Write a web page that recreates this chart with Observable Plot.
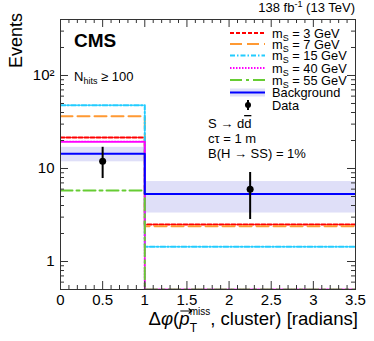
<!DOCTYPE html>
<html><head><meta charset="utf-8">
<script src="https://cdn.jsdelivr.net/npm/d3@7"></script>
<script src="https://cdn.jsdelivr.net/npm/@observablehq/plot@0.6"></script>
<style>body{margin:0;background:#fff} svg{font-family:"Liberation Sans",Arial,Helvetica,sans-serif}</style>
</head><body><div id="chart"></div>
<script>
// ---- data ----
const binEdges = [0, 1, 3.5];
const seriesLabels = ["3 GeV", "7 GeV", "15 GeV", "40 GeV", "55 GeV"];
const ms3 = [21.6, 2.5];
const ms7 = [36.5, 2.4];
const ms15 = [48, 1.44];
const ms40 = [19.4, 0];
const ms55 = [5.8, 0];
const background = [14.4, 5.33];
const bkgLow = [11.8, 3.32];
const bkgHigh = [16.9, 7.24];
const dataX = [0.5, 2.25];
const dataY = [12, 6];
const dataLow = [7.8, 2.83];
const dataHigh = [16.9, 9.06];
const xTickValues = [0, 0.5, 1, 1.5, 2, 2.5, 3, 3.5];
const xTickLabels = ["0", "0.5", "1", "1.5", "2", "2.5", "3", "3.5"];
const yTickValues = [1, 10, 100];
const yTickLabels = ["1", "10", "10\u00b2"];

// ---- styles ----
const FONT = '"Liberation Sans", Arial, Helvetica, sans-serif';
const YMIN = 0.5, YMAX = 400;
const styles = [
  {vals: ms3, color: "#ff0000", dash: "4,2"},
  {vals: ms7, color: "#ff9933", dash: "12,5"},
  {vals: ms15, color: "#22ccff", dash: "5,2,1.5,2"},
  {vals: ms40, color: "#ff00ff", dash: "1.5,1.5"},
  {vals: ms55, color: "#66cc33", dash: "12,4,3,4"}
];
const steps = vals => {
  const v = vals.map(d => Math.max(d, YMIN));
  return [{x: binEdges[0], y: v[0]}, {x: binEdges[1], y: v[1]}, {x: binEdges[2], y: v[1]}];
};
const bins = [0, 1].map(i => ({x1: binEdges[i], x2: binEdges[i + 1], lo: bkgLow[i], hi: bkgHigh[i]}));
const pts = dataX.map((x, i) => ({x, y: dataY[i], lo: dataLow[i], hi: dataHigh[i]}));

const W = 374, H = 341, mL = 60, mR = 19, mT = 19, mB = 52;
const fw = W - mL - mR, fh = H - mT - mB;
const xMinor = d3.range(0, 3.5001, 0.1).map(d => +d.toFixed(2)).filter(d => !xTickValues.includes(d));
const yMinor = [];
for (const dec of [0.1, 1, 10, 100]) for (let k = 2; k <= 9; k++) { const v = k * dec; if (v >= YMIN && v <= YMAX) yMinor.push(v); }
const AX = "#333";

const svg = Plot.plot({
  width: W, height: H, marginLeft: mL, marginRight: mR, marginTop: mT, marginBottom: mB,
  style: {fontFamily: FONT, background: "white", overflow: "visible"},
  x: {domain: [0, 3.5], label: null},
  y: {type: "log", domain: [YMIN, YMAX], label: null},
  marks: [
    Plot.rect(bins, {x1: "x1", x2: "x2", y1: "lo", y2: "hi", fill: "#dfdff8"}),
    ...styles.map(s => Plot.line(steps(s.vals), {x: "x", y: "y", curve: "step-after", stroke: s.color, strokeWidth: 2, strokeDasharray: s.dash, clip: true})),
    Plot.line(steps(background), {x: "x", y: "y", curve: "step-after", stroke: "#0000ff", strokeWidth: 2, clip: true}),
    Plot.ruleX(pts, {x: "x", y1: "lo", y2: "hi", stroke: "black", strokeWidth: 2}),
    Plot.dot(pts, {x: "x", y: "y", r: 3.5, fill: "black"}),
    Plot.tickX(xMinor, {x: d => d, insetTop: fh - 4, stroke: AX}),
    Plot.tickX(xTickValues, {x: d => d, insetTop: fh - 8, stroke: AX}),
    Plot.tickX(xMinor, {x: d => d, insetBottom: fh - 4, stroke: AX}),
    Plot.tickX(xTickValues, {x: d => d, insetBottom: fh - 8, stroke: AX}),
    Plot.tickY(yMinor, {y: d => d, insetRight: fw - 4, stroke: AX}),
    Plot.tickY(yTickValues, {y: d => d, insetRight: fw - 8, stroke: AX}),
    Plot.tickY(yMinor, {y: d => d, insetLeft: fw - 4, stroke: AX}),
    Plot.tickY(yTickValues, {y: d => d, insetLeft: fw - 8, stroke: AX}),
    Plot.frame({stroke: AX}),
    Plot.axisX({ticks: xTickValues, tickSize: 0, tickPadding: 5, fontSize: 15, tickFormat: d => xTickLabels[xTickValues.indexOf(d)], label: null}),
    Plot.axisY({ticks: yTickValues, tickSize: 0, tickPadding: 6, fontSize: 15, tickFormat: d => yTickLabels[yTickValues.indexOf(d)], label: null})
  ]
});
document.getElementById("chart").appendChild(svg);

const g = d3.select(svg).append("g").attr("font-family", FONT).attr("fill", "black").attr("text-anchor", "start");

// top-right lumi
const lumi = g.append("text").attr("x", 355).attr("y", 12).attr("text-anchor", "end").attr("font-size", 13);
lumi.append("tspan").text("138 fb");
lumi.append("tspan").attr("font-size", 9).attr("dy", -5).text("-1");
lumi.append("tspan").attr("dy", 5).text(" (13 TeV)");

// CMS
g.append("text").attr("x", 74).attr("y", 47).attr("font-size", 19).attr("font-weight", "bold").text("CMS");

// N_hits
const nh = g.append("text").attr("x", 74).attr("y", 81).attr("font-size", 13);
nh.append("tspan").text("N");
nh.append("tspan").attr("font-size", 9).attr("dy", 3).text("hits");
nh.append("tspan").attr("dy", -3).text(" \u2265 100");

// Events
g.append("text").attr("transform", "translate(22,13) rotate(-90)").attr("text-anchor", "end").attr("font-size", 18).text("Events");

// x label
const xl = g.append("text").attr("x", 358).attr("y", 325).attr("text-anchor", "end").attr("font-size", 18.6);
xl.append("tspan").text("\u0394");
xl.append("tspan").attr("font-style", "italic").text("\u03c6");
xl.append("tspan").text("(");
xl.append("tspan").attr("font-style", "italic").text("p");
const tW = 12 * 0.611;
xl.append("tspan").attr("font-size", 12).attr("dy", 7).text("T");
xl.append("tspan").attr("font-size", 10).attr("dx", -tW).attr("dy", -17).text("miss");
xl.append("tspan").attr("dy", 10).text(", cluster) [radians]");
try {
  const ext = xl.node().getExtentOfChar(3);
  const ax1 = ext.x + 1, ax2 = ext.x + ext.width + 2, ay = ext.y + 3;
  g.append("path").attr("d", `M${ax1},${ay}H${ax2}M${ax2 - 3},${ay - 2.5}L${ax2},${ay}L${ax2 - 3},${ay + 2.5}`)
    .attr("stroke", "black").attr("stroke-width", 1.2).attr("fill", "none");
} catch (e) {}

// legend
const legY = [33, 44, 55.5, 68, 80, 92.5, 105];
const lx1 = 230, lx2 = 265, tx = 272;
styles.forEach((s, i) => {
  g.append("line").attr("x1", lx1).attr("x2", lx2).attr("y1", legY[i]).attr("y2", legY[i])
    .attr("stroke", s.color).attr("stroke-width", 2).attr("stroke-dasharray", s.dash);
  const t = g.append("text").attr("x", tx).attr("y", legY[i] + 4.5).attr("font-size", 12.8);
  t.append("tspan").text("m");
  t.append("tspan").attr("font-size", 9).attr("dy", 3).text("S");
  t.append("tspan").attr("dy", -3).text(" = " + seriesLabels[i]);
});
g.append("rect").attr("x", lx1).attr("y", legY[5] - 4).attr("width", lx2 - lx1).attr("height", 8).attr("fill", "#dfdff8");
g.append("line").attr("x1", lx1).attr("x2", lx2).attr("y1", legY[5]).attr("y2", legY[5]).attr("stroke", "#0000ff").attr("stroke-width", 2);
g.append("text").attr("x", tx).attr("y", legY[5] + 4.5).attr("font-size", 12.8).text("Background");
g.append("line").attr("x1", 248).attr("x2", 248).attr("y1", legY[6] - 5).attr("y2", legY[6] + 5).attr("stroke", "black").attr("stroke-width", 2);
g.append("circle").attr("cx", 248).attr("cy", legY[6]).attr("r", 3).attr("fill", "black");
g.append("text").attr("x", tx).attr("y", legY[6] + 4.5).attr("font-size", 12.8).text("Data");

// model text
const m1 = g.append("text").attr("x", 208).attr("y", 128).attr("font-size", 13);
m1.append("tspan").text("S \u2192 d");
m1.append("tspan").attr("text-decoration", "overline").style("text-decoration", "overline").text("d");
g.append("text").attr("x", 208).attr("y", 143).attr("font-size", 13).text("c\u03c4 = 1 m");
g.append("text").attr("x", 208).attr("y", 158).attr("font-size", 13).text("B(H \u2192 SS) = 1%");
</script></body></html>
